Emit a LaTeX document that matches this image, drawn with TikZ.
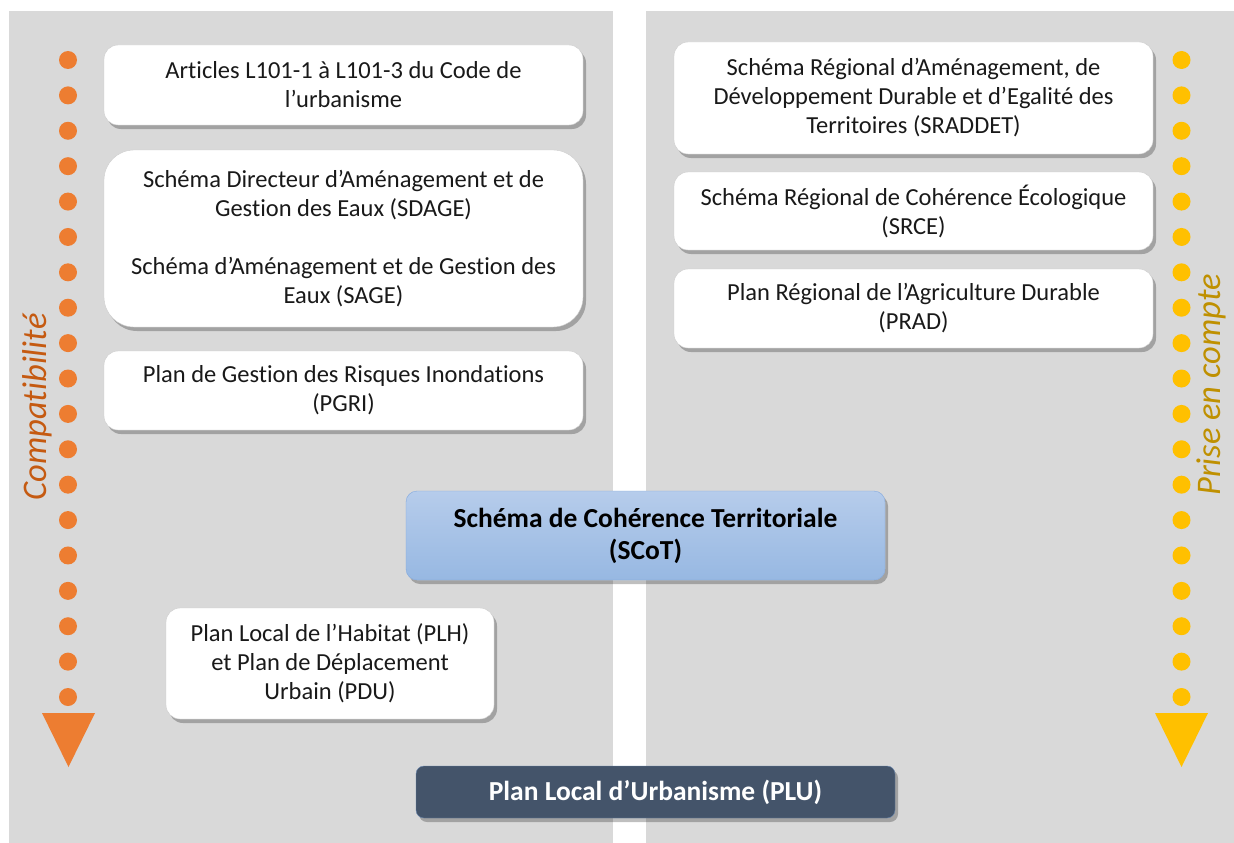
\documentclass[tikz,border=0pt]{standalone}
\usepackage{fontspec}
\setmainfont{Carlito}[Ligatures=NoCommon]
\usetikzlibrary{shadows}
\definecolor{panelgray}{HTML}{D9D9D9}
\definecolor{dotorange}{HTML}{ED7D31}
\definecolor{txtorange}{HTML}{C55A11}
\definecolor{dotgold}{HTML}{FFC000}
\definecolor{txtgold}{HTML}{BF9000}
\definecolor{plufill}{HTML}{44546A}
\definecolor{scottop}{HTML}{B6CCEB}
\definecolor{scotbot}{HTML}{97B8E2}
\definecolor{scotline}{HTML}{7FA5DA}
\tikzset{
  docbox/.style={draw=gray!40,fill=white,rounded corners=14pt,align=center,
    font=\fontsize{24.5}{29}\selectfont,text=black!90,inner sep=0pt,
    drop shadow={shadow xshift=3pt,shadow yshift=-4pt,opacity=0.25,fill=black}},
  scotbox/.style={docbox,draw=scotline,top color=scottop,bottom color=scotbot,
    rounded corners=11pt,font=\bfseries\fontsize{27.5}{32}\selectfont,text=black},
  plubox/.style={docbox,draw=scotline!60!plufill,fill=plufill,rounded corners=8pt,
    font=\bfseries\fontsize{27.5}{30}\selectfont,text=white},
  sidelabel/.style={rotate=90,font=\itshape\fontsize{34.5}{38}\selectfont}
}
\begin{document}
\begin{tikzpicture}[x=1pt,y=-1pt]
  \useasboundingbox (0,0) rectangle (1234,843);
  % two gray panels
  \fill[panelgray] (9,11) rectangle (613,843);
  \fill[panelgray] (646,11) rectangle (1234,843);
  % dotted arrows
  \foreach \i in {0,1,...,18}{
    \fill[dotorange] (68,60+35.39*\i) circle (9);
    \fill[dotgold] (1181.5,60+35.39*\i) circle (9);
  }
  \fill[dotorange] (42,713)--(95,713)--(68.5,767)--cycle;
  \fill[dotgold] (1155,713)--(1208,713)--(1181.5,767)--cycle;
  \node[sidelabel,text=txtorange] (compat) at (37,407) {Compatibilité};
  \node[sidelabel,text=txtgold] (prise) at (1211,385) {Prise en compte};
  % left column
  \node[docbox,minimum width=479,minimum height=80] (articles) at (343.5,85)
    {Articles L101-1 à L101-3 du Code de\\l’urbanisme};
  \node[docbox,rounded corners=30pt,minimum width=479,minimum height=177] (sdage) at (343.5,238.5)
    {Schéma Directeur d’Aménagement et de\\Gestion des Eaux (SDAGE)\\[29pt]Schéma d’Aménagement et de Gestion des\\Eaux (SAGE)};
  \node[docbox,minimum width=479,minimum height=79] (pgri) at (343.5,390.5)
    {Plan de Gestion des Risques Inondations\\(PGRI)};
  \node[docbox,minimum width=328,minimum height=111] (plh) at (330,663.5)
    {Plan Local de l’Habitat (PLH)\\et Plan de Déplacement\\Urbain (PDU)};
  % right column
  \node[docbox,minimum width=479,minimum height=112] (sraddet) at (913.5,98)
    {Schéma Régional d’Aménagement, de\\Développement Durable et d’Egalité des\\Territoires (SRADDET)};
  \node[docbox,minimum width=479,minimum height=78] (srce) at (913.5,211)
    {Schéma Régional de Cohérence Écologique\\(SRCE)};
  \node[docbox,minimum width=479,minimum height=79] (prad) at (913.5,308.5)
    {Plan Régional de l’Agriculture Durable\\(PRAD)};
  % documents in the middle
  \node[scotbox,minimum width=479,minimum height=89] (scot) at (645.5,535.5)
    {Schéma de Cohérence Territoriale\\(SCoT)};
  \node[plubox,minimum width=479,minimum height=52] (plu) at (655.5,792)
    {Plan Local d’Urbanisme (PLU)};
\end{tikzpicture}
\end{document}
